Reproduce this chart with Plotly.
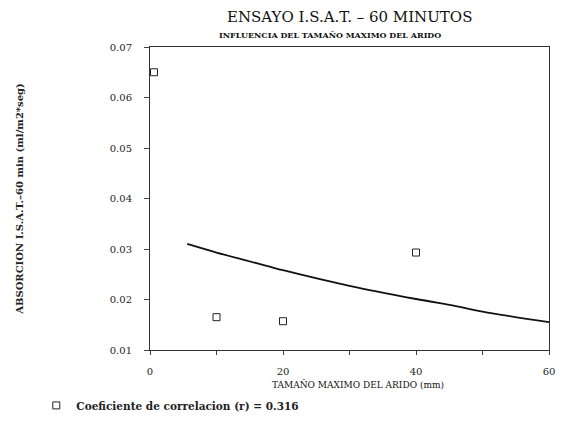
import plotly.graph_objects as go

# Data
pts_x = [0.6, 10, 20, 40]
pts_y = [0.065, 0.0165, 0.0157, 0.0293]

curve_x = [5.6, 10, 18, 20, 30, 40, 46, 50, 60]
curve_y = [0.0310, 0.0293, 0.0265, 0.0258, 0.0227, 0.0201, 0.0187, 0.0176, 0.0155]

x_ticks = [0, 10, 20, 30, 40, 50, 60]
x_ticktext = ["0", "", "20", "", "40", "", "60"]
y_ticks = [0.01, 0.02, 0.03, 0.04, 0.05, 0.06, 0.07]

title = "ENSAYO I.S.A.T. \u2013 60 MINUTOS"
subtitle = "INFLUENCIA DEL TAMAÑO MAXIMO DEL ARIDO"
xlabel = "TAMAÑO MAXIMO DEL ARIDO (mm)"
ylabel = "ABSORCION I.S.A.T.\u201360 min (ml/m2*seg)"
legend_label = "Coeficiente de correlacion (r) = 0.316"

FONT = "DejaVu Serif"

fig = go.Figure()
fig.add_trace(go.Scatter(
    x=curve_x, y=curve_y, mode="lines",
    line=dict(color="#111111", width=1.8, shape="spline"),
    showlegend=False, hoverinfo="skip"))
fig.add_trace(go.Scatter(
    x=pts_x, y=pts_y, mode="markers", name="<b>" + legend_label + "</b>",
    marker=dict(symbol="square-open", size=7, color="#222222",
                line=dict(width=1))))

# page body has an 8px default margin, so the figure is 8px smaller
fig.update_layout(
    width=558, height=423,
    margin=dict(l=140, r=11, t=39, b=63),
    paper_bgcolor="white", plot_bgcolor="white",
    font=dict(family=FONT, color="#222222"),
    showlegend=True,
    legend=dict(x=-0.285, y=-0.135, xanchor="left", yanchor="top",
                bgcolor="rgba(0,0,0,0)", itemwidth=30,
                font=dict(family=FONT, size=10.5, color="#222222")),
    xaxis=dict(range=[0, 60], tickvals=x_ticks, ticktext=x_ticktext,
               ticks="outside", ticklen=4, tickcolor="#444444",
               ticklabelstandoff=8,
               showline=True, linecolor="#333333", linewidth=1, mirror=True,
               showgrid=False, zeroline=False,
               tickfont=dict(family=FONT, size=10, color="#222222")),
    yaxis=dict(range=[0.01, 0.07], tickvals=y_ticks, tickformat=".2f",
               ticks="outside", ticklen=5, tickcolor="#444444",
               ticklabelstandoff=10,
               showline=True, linecolor="#333333", linewidth=1, mirror=True,
               showgrid=False, zeroline=False,
               tickfont=dict(family=FONT, size=10, color="#222222"),
               title=dict(text="<b>" + ylabel + "</b>", standoff=84,
                          font=dict(family=FONT, size=10, color="#222222"))),
)

fig.add_annotation(text=title, xref="paper", yref="paper",
                   x=(352 - 148) / 407, y=1 + (47 - 15) / 321,
                   showarrow=False, xanchor="center", yanchor="middle",
                   font=dict(family=FONT, size=15, color="#111111"))
fig.add_annotation(text="<b>" + subtitle + "</b>", xref="paper", yref="paper",
                   x=(332 - 148) / 407, y=1 + (47 - 34) / 321,
                   showarrow=False, xanchor="center", yanchor="middle",
                   font=dict(family=FONT, size=8, color="#111111"))
fig.add_annotation(text=xlabel, xref="paper", yref="paper",
                   x=(360 - 148) / 407, y=-(405 - 368) / 321,
                   showarrow=False, xanchor="center", yanchor="middle",
                   font=dict(family=FONT, size=9, color="#111111"))

fig.write_html("out.html")
